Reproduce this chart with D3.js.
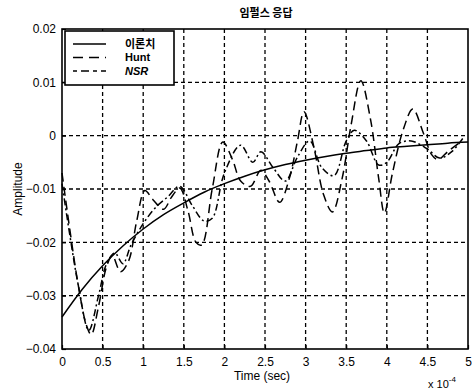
<!DOCTYPE html>
<html>
<head>
<meta charset="utf-8">
<script src="https://cdn.jsdelivr.net/npm/d3@7"></script>
<style>
  body { margin: 0; background: #fff; }
  text { font-family: "Liberation Sans", Arial, sans-serif; fill: #000; }
</style>
</head>
<body>
<svg id="chart" width="473" height="391"></svg>
<script>
// time in units of 1e-4 s
var theoryT = [0, 0.25, 0.5, 0.75, 1, 1.25, 1.5, 1.75, 2, 2.25, 2.5, 2.75, 3, 3.25, 3.5, 3.75, 4, 4.25, 4.5, 4.75, 5];
var theoryY = [-0.0340, -0.0288, -0.0244, -0.0207, -0.0175, -0.0148, -0.0126, -0.0106, -0.0090, -0.0076, -0.0064,
               -0.0054, -0.0046, -0.0039, -0.0033, -0.0028, -0.0023, -0.0020, -0.0017, -0.0014, -0.0012];

var huntT = [0, 0.1, 0.2, 0.3, 0.36, 0.45, 0.55, 0.62, 0.72, 0.82, 0.92, 1.02, 1.12, 1.25, 1.35, 1.45, 1.55, 1.65, 1.72,
             1.85, 1.98, 2.1, 2.2, 2.32, 2.45, 2.55, 2.68, 2.8, 2.9, 2.98, 3.1, 3.22, 3.33, 3.45, 3.56, 3.68, 3.8, 3.9,
             3.97, 4.07, 4.2, 4.32, 4.45, 4.55, 4.63, 4.75, 4.88];
var huntY = [-0.0070, -0.0180, -0.0280, -0.0355, -0.0373, -0.0320, -0.0245, -0.0225, -0.0255, -0.0235, -0.0160, -0.0103,
             -0.0120, -0.0138, -0.0115, -0.0098, -0.0140, -0.0200, -0.0205, -0.0100, -0.0012, -0.0045, -0.0085, -0.0095,
             -0.0065, -0.0085, -0.0125, -0.0080, -0.0010, 0.0045, -0.0020, -0.0110, -0.0143, -0.0080, 0.0020, 0.0103,
             0.0030, -0.0080, -0.0145, -0.0070, 0.0010, 0.0050, 0.0005, -0.0035, -0.0045, -0.0030, -0.0015];

var nsrT = [0, 0.1, 0.2, 0.33, 0.45, 0.55, 0.65, 0.75, 0.85, 1, 1.15, 1.3, 1.45, 1.6, 1.75, 1.85, 2, 2.2, 2.35, 2.45,
            2.6, 2.75, 2.9, 3.05, 3.2, 3.35, 3.5, 3.6, 3.75, 3.9, 4, 4.15, 4.3, 4.5, 4.65, 4.8, 4.95];
var nsrY = [-0.0090, -0.0190, -0.0280, -0.0365, -0.0300, -0.0240, -0.0220, -0.0240, -0.0205, -0.0165, -0.0135, -0.0115,
            -0.0095, -0.0130, -0.0160, -0.0155, -0.0070, -0.0018, -0.0050, -0.0030, -0.0060, -0.0085, -0.0040, -0.0010,
            -0.0060, -0.0075, -0.0010, 0.0010, -0.0010, -0.0055, -0.0050, -0.0015, -0.0010, -0.0025, -0.0042, -0.0030,
            -0.0002];

var xTicks = [0, 0.5, 1, 1.5, 2, 2.5, 3, 3.5, 4, 4.5, 5];
var yTicks = [-0.04, -0.03, -0.02, -0.01, 0, 0.01, 0.02];
var legendNames = ["이론치", "Hunt", "NSR"];

var svg = d3.select("#chart");
var margin = {top: 29, right: 5, bottom: 42, left: 62};
var width = 473 - margin.left - margin.right,
    height = 391 - margin.top - margin.bottom;

var x = d3.scaleLinear().domain([0, 5]).range([margin.left, margin.left + width]);
var y = d3.scaleLinear().domain([-0.04, 0.02]).range([margin.top + height, margin.top]);

// grid
var grid = svg.append("g");
grid.selectAll(".gx")
  .data(xTicks.slice(1, -1))
  .enter().append("line")
  .attr("x1", function(d) { return x(d); })
  .attr("x2", function(d) { return x(d); })
  .attr("y1", y(0.02)).attr("y2", y(-0.04))
  .attr("stroke", "#000").attr("stroke-width", 1.3).attr("stroke-dasharray", "4,3");
grid.selectAll(".gy")
  .data(yTicks.slice(1, -1))
  .enter().append("line")
  .attr("y1", function(d) { return y(d); })
  .attr("y2", function(d) { return y(d); })
  .attr("x1", x(0)).attr("x2", x(5))
  .attr("stroke", "#000").attr("stroke-width", 1.3).attr("stroke-dasharray", "4,3");

// axes
var xAxis = svg.append("g")
  .attr("transform", "translate(0," + (margin.top + height) + ")")
  .call(d3.axisBottom(x).tickValues(xTicks).tickSize(-4).tickPadding(8)
    .tickFormat(function(d) { return d3.format("")(d); }));
var yAxis = svg.append("g")
  .attr("transform", "translate(" + margin.left + ",0)")
  .call(d3.axisLeft(y).tickValues(yTicks).tickSize(-4).tickPadding(6)
    .tickFormat(function(d) { return d === 0 ? "0" : d3.format(".2f")(d); }));
[xAxis, yAxis].forEach(function(a) {
  a.select(".domain").remove();
  a.selectAll("text").style("font-size", "12px").style("font-family", "Liberation Sans, Arial, sans-serif");
  a.selectAll("line").attr("stroke", "#000").attr("stroke-width", 1.2);
});

// frame
svg.append("rect")
  .attr("x", x(0)).attr("y", y(0.02))
  .attr("width", x(5) - x(0)).attr("height", y(-0.04) - y(0.02))
  .attr("fill", "none").attr("stroke", "#000").attr("stroke-width", 1.6);

// lines
var line = d3.line()
  .x(function(d) { return x(d[0]); })
  .y(function(d) { return y(d[1]); })
  .curve(d3.curveCatmullRom.alpha(0.5));

var series = [
  {pts: d3.zip(theoryT, theoryY), dash: null},
  {pts: d3.zip(huntT, huntY), dash: "9,5"},
  {pts: d3.zip(nsrT, nsrY), dash: "7,3,2,3"}
];
svg.append("g").selectAll("path")
  .data(series)
  .enter().append("path")
  .attr("d", function(d) { return line(d.pts); })
  .attr("fill", "none")
  .attr("stroke", "#000")
  .attr("stroke-width", 1.5)
  .attr("stroke-dasharray", function(d) { return d.dash; });

// legend
var lg = svg.append("g");
lg.append("rect")
  .attr("x", 65).attr("y", 31).attr("width", 109).attr("height", 54)
  .attr("fill", "#fff").attr("stroke", "#000").attr("stroke-width", 1.6);
var legendDash = [null, "10,6", "4,4,8,4"];
lg.selectAll("line.k")
  .data(legendNames)
  .enter().append("line")
  .attr("x1", 73).attr("x2", 106)
  .attr("y1", function(d, i) { return 44 + i * 13.5; })
  .attr("y2", function(d, i) { return 44 + i * 13.5; })
  .attr("stroke", "#000").attr("stroke-width", 1.4)
  .attr("stroke-dasharray", function(d, i) { return legendDash[i]; });
lg.selectAll("text")
  .data(legendNames)
  .enter().append("text")
  .attr("x", 125)
  .attr("y", function(d, i) { return 44 + i * 13.5; })
  .attr("dy", ".35em")
  .style("font-size", "11px")
  .style("font-weight", "bold")
  .style("font-style", function(d, i) { return i === 2 ? "italic" : "normal"; })
  .style("font-family", function(d, i) { return i === 0 ? "Noto Sans CJK KR, sans-serif" : "Liberation Sans, Arial, sans-serif"; })
  .text(function(d) { return d; });

// titles
svg.append("text")
  .attr("x", 266).attr("y", 17)
  .attr("text-anchor", "middle")
  .style("font-family", "Noto Sans CJK KR, sans-serif")
  .style("font-size", "11px").style("font-weight", "bold")
  .text("임펄스 응답");
svg.append("text")
  .attr("x", 262).attr("y", 380)
  .attr("text-anchor", "middle")
  .style("font-size", "12px")
  .text("Time (sec)");
svg.append("text")
  .attr("transform", "translate(22,189) rotate(-90)")
  .attr("text-anchor", "middle")
  .style("font-size", "12px")
  .text("Amplitude");
var ex = svg.append("text")
  .attr("x", 428).attr("y", 388)
  .style("font-size", "11px");
ex.append("tspan").text("x 10");
ex.append("tspan").attr("dy", -6).style("font-size", "8px").text("-4");
</script>
</body>
</html>
